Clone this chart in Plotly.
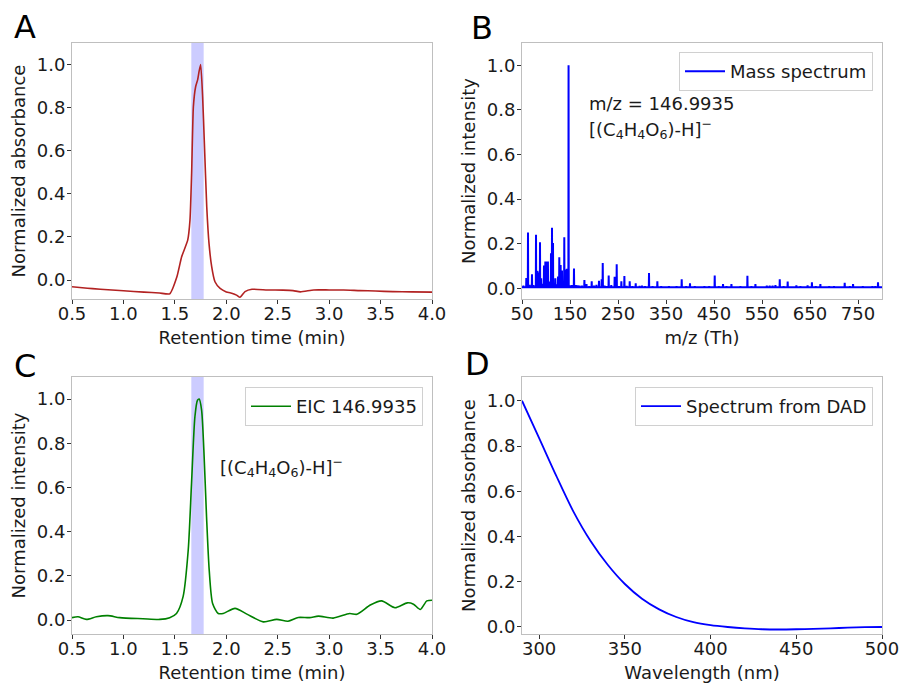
import plotly.graph_objects as go

# ---------------- Data ----------------
# Panel A: DAD chromatogram at 290 nm
dad_time = [0.5, 0.6, 0.7, 0.85, 1.0, 1.2, 1.35, 1.45, 1.52, 1.566, 1.625, 1.647, 1.663,
            1.68, 1.702, 1.722, 1.735, 1.751, 1.77, 1.786, 1.81, 1.832, 1.858, 1.89, 1.94,
            2.0, 2.06, 2.1, 2.133, 2.182, 2.25, 2.4, 2.55, 2.65, 2.72, 2.85, 3.0, 3.14,
            3.3, 3.45, 3.62, 3.8, 4.0]
dad_abs = [-0.031, -0.036, -0.040, -0.045, -0.050, -0.056, -0.060, -0.064, 0.015, 0.108,
           0.185, 0.278, 0.495, 0.804, 0.897, 0.93, 0.967, 1.0, 0.85, 0.649, 0.34, 0.17,
           0.062, -0.008, -0.039, -0.055, -0.062, -0.07, -0.08, -0.054, -0.043, -0.046,
           -0.047, -0.049, -0.055, -0.046, -0.046, -0.046, -0.049, -0.051, -0.054, -0.055,
           -0.056]

# Panel B: mass spectrum (major peaks)
ms_mz = [59, 62.5, 70.8, 79.2, 82, 83.3, 87.5, 90, 95.8, 98.6, 100.7, 104, 107, 110.4,
         112.5, 114.6, 119.4, 125, 127.7, 130.5, 133.3, 138.1, 141.6, 143.7, 147.0, 158.3,
         180, 184.4, 195.2, 210.4, 216, 218.2, 230.6, 243, 247.3, 257, 263.3, 274.4, 286.9,
         314.6, 332, 382.7, 400, 451.5, 468.8, 486.3, 519.6, 536.3, 587, 603.5, 621.6,
         645, 654, 671.6, 722.3, 739.7, 791.7]
ms_int = [0.046, 0.25, 0.063, 0.24, 0.078, 0.065, 0.206, 0.045, 0.102, 0.12, 0.12, 0.12,
          0.03, 0.157, 0.272, 0.203, 0.045, 0.053, 0.139, 0.104, 0.08, 0.229, 0.084, 0.088,
          1.0, 0.089, 0.037, 0.019, 0.031, 0.034, 0.04, 0.113, 0.057, 0.052, 0.108, 0.031,
          0.055, 0.031, 0.022, 0.068, 0.031, 0.04, 0.022, 0.057, 0.019, 0.019, 0.056,
          0.019, 0.04, 0.03, 0.013, 0.013, 0.027, 0.019, 0.025, 0.019, 0.027]
# Panel B: small background peaks
ms_minor_mz = [53, 66, 74, 92, 117, 122, 135, 151, 154, 157, 162, 166, 170, 175, 190,
               200, 205, 222, 226, 236, 252, 268, 280, 295, 300, 306, 322, 340, 349, 356,
               365, 372, 392, 410, 420, 430, 440, 445, 460, 476, 495, 505, 512, 528, 545,
               560, 566, 572, 578, 595, 612, 630, 638, 662, 680, 690, 700, 710, 733, 750,
               760, 770, 780, 786]
ms_minor_int = [0.012, 0.015, 0.014, 0.02, 0.02, 0.018, 0.016, 0.013, 0.014, 0.013, 0.014,
                0.013, 0.012, 0.012, 0.01, 0.012, 0.015, 0.012, 0.01, 0.014, 0.01, 0.011,
                0.01, 0.011, 0.012, 0.01, 0.009, 0.01, 0.008, 0.01, 0.008, 0.009, 0.01,
                0.01, 0.008, 0.009, 0.01, 0.008, 0.009, 0.01, 0.008, 0.009, 0.008, 0.01,
                0.008, 0.012, 0.012, 0.012, 0.014, 0.009, 0.008, 0.009, 0.008, 0.01, 0.008,
                0.009, 0.01, 0.008, 0.009, 0.008, 0.009, 0.008, 0.009, 0.01]

# Panel C: extracted ion chromatogram 146.9935
eic_time = [0.5, 0.558, 0.64, 0.737, 0.85, 0.964, 1.19, 1.354, 1.45, 1.516, 1.58, 1.63,
            1.662, 1.695, 1.72, 1.737, 1.76, 1.782, 1.808, 1.834, 1.867, 1.922, 1.97,
            2.085, 2.2, 2.36, 2.49, 2.6, 2.7, 2.81, 2.896, 3.04, 3.2, 3.27, 3.4, 3.51,
            3.64, 3.76, 3.82, 3.886, 3.95, 4.0]
eic_int = [0.011, 0.015, 0.003, 0.015, 0.02, 0.011, 0.006, 0.003, 0.011, 0.03, 0.106,
           0.317, 0.618, 0.92, 0.995, 1.0, 0.95, 0.769, 0.468, 0.226, 0.075, 0.03, 0.03,
           0.053, 0.027, -0.008, 0.003, -0.005, 0.012, 0.011, 0.018, 0.009, 0.03, 0.026,
           0.068, 0.087, 0.056, 0.078, 0.072, 0.048, 0.087, 0.09]

# Panel D: UV spectrum from DAD
wl_nm = [290, 300, 310, 320, 330, 340, 350, 360, 370, 380, 390, 400, 410, 420, 430, 440,
         450, 460, 470, 480, 490, 500]
wl_abs = [1.0, 0.835, 0.668, 0.51, 0.38, 0.275, 0.19, 0.125, 0.078, 0.044, 0.021, 0.008,
          0.0, -0.006, -0.01, -0.011, -0.01, -0.008, -0.006, -0.003, -0.001, 0.0]

# Integration window (min)
window = [1.66, 1.78]

formula = "[(C<sub>4</sub>H<sub>4</sub>O<sub>6</sub>)-H]<sup>−</sup>"

# ---------------- Build spectrum line ----------------
ms_base = 0.005
peaks = sorted(list(zip(ms_mz, ms_int)) + list(zip(ms_minor_mz, ms_minor_int)))
spec_x, spec_y = [50], [ms_base]
for m, h in peaks:
    spec_x += [m - 0.4, m, m + 0.4]
    spec_y += [ms_base, h, ms_base]
spec_x.append(800)
spec_y.append(ms_base)

# ---------------- Figure ----------------
W, H = 901, 683
FONT = "DejaVu Sans"

def px_x(p):
    return p / W

def px_y(p):
    return 1 - p / H

fig = go.Figure()

fig.add_trace(go.Scatter(x=dad_time, y=dad_abs, mode="lines", name="DAD (290 nm)",
                         line=dict(color="firebrick", width=1.6, shape="spline", smoothing=0.5),
                         xaxis="x", yaxis="y", legend="legend"))
fig.add_trace(go.Scatter(x=spec_x, y=spec_y, mode="lines", name="Mass spectrum",
                         line=dict(color="blue", width=2),
                         xaxis="x2", yaxis="y2", legend="legend2"))
fig.add_trace(go.Scatter(x=eic_time, y=eic_int, mode="lines", name="EIC 146.9935",
                         line=dict(color="green", width=1.6, shape="spline", smoothing=0.7),
                         xaxis="x3", yaxis="y3", legend="legend3"))
fig.add_trace(go.Scatter(x=wl_nm, y=wl_abs, mode="lines", name="Spectrum from DAD",
                         line=dict(color="blue", width=1.8, shape="spline", smoothing=0.8),
                         xaxis="x4", yaxis="y4", legend="legend4"))

# highlighted windows
for xr, yr in (("x", "y"), ("x3", "y3")):
    fig.add_shape(type="rect", xref=xr, yref=yr + " domain", x0=window[0], x1=window[1],
                  y0=0, y1=1, fillcolor="#ccccff", line=dict(width=0), layer="below")

dom_xl = [px_x(72), px_x(432)]
dom_xr = [px_x(522), px_x(882)]
dom_yt = [px_y(299), px_y(43)]
dom_yb = [px_y(634), px_y(377)]

axis_common = dict(showgrid=False, zeroline=False, showline=True, mirror=True,
                   automargin=False,
                   linecolor="#bfbfbf", linewidth=1, ticks="outside", ticklen=4,
                   tickcolor="#333333", tickfont=dict(size=18, family=FONT, color="#1a1a1a"),
                   title_font=dict(size=18, family=FONT, color="#1a1a1a"))
x_common = dict(ticklabelstandoff=-6, **axis_common)
y_common = dict(ticklabelstandoff=-2, **axis_common)

ytickvals = [0.0, 0.2, 0.4, 0.6, 0.8, 1.0]
rt_ticks = [0.5, 1.0, 1.5, 2.0, 2.5, 3.0, 3.5, 4.0]

fig.update_layout(
    width=W, height=H, margin=dict(l=0, r=0, t=0, b=0, autoexpand=False),
    paper_bgcolor="white", plot_bgcolor="white",
    font=dict(family=FONT, size=18, color="#1a1a1a"),
    xaxis=dict(domain=dom_xl, anchor="y", range=[0.5, 4.0], tickvals=rt_ticks,
               tickformat=".1f", title=dict(text="Retention time (min)", standoff=8),
               **x_common),
    yaxis=dict(domain=dom_yt, anchor="x", range=[-0.088, 1.1], tickvals=ytickvals,
               tickformat=".1f", title=dict(text="Normalized absorbance", standoff=6),
               **y_common),
    xaxis2=dict(domain=dom_xr, anchor="y2", range=[50, 800],
                tickvals=[50, 150, 250, 350, 450, 550, 650, 750],
                title=dict(text="m/z (Th)", standoff=8), **x_common),
    yaxis2=dict(domain=dom_yt, anchor="x2", range=[-0.048, 1.1], tickvals=ytickvals,
                tickformat=".1f", title=dict(text="Normalized intensity", standoff=6),
                **y_common),
    xaxis3=dict(domain=dom_xl, anchor="y3", range=[0.5, 4.0], tickvals=rt_ticks,
                tickformat=".1f", title=dict(text="Retention time (min)", standoff=8),
                **x_common),
    yaxis3=dict(domain=dom_yb, anchor="x3", range=[-0.063, 1.1], tickvals=ytickvals,
                tickformat=".1f", title=dict(text="Normalized intensity", standoff=6),
                **y_common),
    xaxis4=dict(domain=dom_xr, anchor="y4", range=[290, 500],
                tickvals=[300, 350, 400, 450, 500],
                title=dict(text="Wavelength (nm)", standoff=8), **x_common),
    yaxis4=dict(domain=dom_yb, anchor="x4", range=[-0.031, 1.105], tickvals=ytickvals,
                tickformat=".1f", title=dict(text="Normalized absorbance", standoff=6),
                **y_common),
)

legend_common = dict(bgcolor="rgba(255,255,255,0.85)", bordercolor="#d0d0d0", borderwidth=1,
                     font=dict(size=18, family=FONT, color="#1a1a1a"),
                     xanchor="right", yanchor="top", itemwidth=40)
fig.update_layout(
    legend=dict(x=px_x(423), y=px_y(52), **legend_common),
    legend2=dict(x=px_x(873), y=px_y(52), **legend_common),
    legend3=dict(x=px_x(423), y=px_y(387), **legend_common),
    legend4=dict(x=px_x(873), y=px_y(387), **legend_common),
)

# text annotations inside panels
fig.add_annotation(x=185, y=0.827, xref="x2", yref="y2", text="m/z = 146.9935",
                   showarrow=False, xanchor="left", yanchor="middle",
                   font=dict(size=18, family=FONT, color="#1a1a1a"))
fig.add_annotation(x=185, y=0.716, xref="x2", yref="y2", text=formula,
                   showarrow=False, xanchor="left", yanchor="middle",
                   font=dict(size=18, family=FONT, color="#1a1a1a"))
fig.add_annotation(x=1.92, y=0.694, xref="x3", yref="y3", text=formula,
                   showarrow=False, xanchor="left", yanchor="middle",
                   font=dict(size=18, family=FONT, color="#1a1a1a"))

# panel letters
for letter, lx, ly in (("A", 25, 27), ("B", 482, 28), ("C", 25, 366), ("D", 477, 364)):
    fig.add_annotation(x=px_x(lx), y=px_y(ly), xref="paper", yref="paper", text=letter,
                       showarrow=False, xanchor="center", yanchor="middle",
                       font=dict(size=32, family=FONT, color="black"))

fig.write_html("out.html")
